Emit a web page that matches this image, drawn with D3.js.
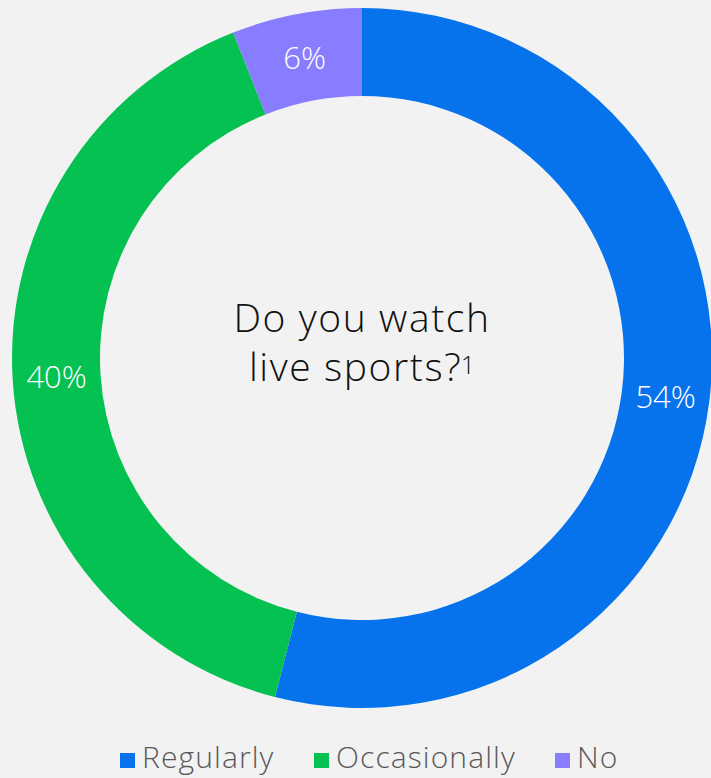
<!DOCTYPE html>
<html>
<head>
<meta charset="utf-8">
<script src="https://cdnjs.cloudflare.com/ajax/libs/d3/7.8.5/d3.min.js"></script>
<style>
  html, body { margin: 0; padding: 0; background: #f2f2f2; }
  text { font-family: "Open Sans", Lato, sans-serif; }
</style>
</head>
<body>
<div class="content"></div>
<script>
  var categories = ["Regularly", "Occasionally", "No"];
  var shares = [54, 40, 6];
  var colors = ["#0673ec", "#04c152", "#897dff"];
  var question = ["Do you watch", "live sports?"];

  var width = 711, height = 778,
      cx = 362, cy = 358,
      outerR = 350, innerR = 262;

  var svg = d3.select(".content").append("svg")
      .attr("width", width)
      .attr("height", height);

  var color = d3.scaleOrdinal().domain(categories).range(colors);

  var pie = d3.pie().sort(null).value(function(d) { return d.value; });
  var data = pie(categories.map(function(c, i) { return {name: c, value: shares[i]}; }));

  var arc = d3.arc().innerRadius(innerR).outerRadius(outerR);
  var labelArc = d3.arc().innerRadius(306).outerRadius(306);

  var g = svg.append("g").attr("transform", "translate(" + cx + "," + cy + ")");

  g.selectAll("path")
      .data(data)
      .enter().append("path")
      .attr("d", arc)
      .attr("fill", function(d) { return color(d.data.name); });

  g.selectAll(".lbl")
      .data(data)
      .enter().append("text")
      .attr("class", "lbl")
      .attr("transform", function(d) { return "translate(" + labelArc.centroid(d) + ")"; })
      .attr("text-anchor", "middle")
      .attr("dy", "0.36em")
      .attr("fill", "#fff")
      .style("font-size", "31px")
      .style("font-weight", 300)
      .text(function(d) { return d.data.value + "%"; });

  // centre question (one text, two lines)
  var q = g.append("text")
      .attr("text-anchor", "middle")
      .attr("fill", "#111")
      .style("font-size", "39px")
      .style("font-weight", 300)
      .style("letter-spacing", "1.6px");
  q.append("tspan").attr("x", 0).attr("y", -26).text(question[0]);
  q.append("tspan").attr("x", 0).attr("y", 23).text(question[1]);
  q.append("tspan").attr("dy", -7).attr("dx", -1.5).style("font-size", "25px").style("letter-spacing", "0px").text("1");

  // legend
  var legendX = [120, 314, 555];
  var legend = svg.selectAll(".legend")
      .data(categories)
      .enter().append("g")
      .attr("class", "legend")
      .attr("transform", function(d, i) { return "translate(" + legendX[i] + ",753)"; });

  legend.append("rect")
      .attr("width", 15)
      .attr("height", 15)
      .attr("fill", function(d) { return color(d); });

  legend.append("text")
      .attr("x", 22)
      .attr("y", 15)
      .attr("fill", "#595959")
      .style("font-size", "30px")
      .style("font-weight", 300)
      .style("letter-spacing", "1.1px")
      .text(function(d) { return d; });
</script>
</body>
</html>
